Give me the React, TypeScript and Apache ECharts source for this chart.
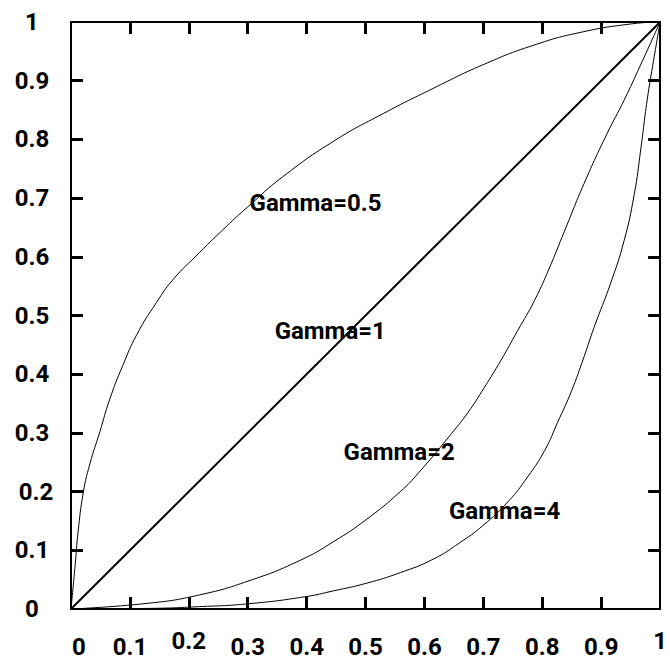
import React, { useEffect, useRef } from "react";
import * as echarts from "echarts";

const tickValues = [0.1, 0.2, 0.3, 0.4, 0.5, 0.6, 0.7, 0.8, 0.9];

const gamma05: number[][] = [
  [0, 0], [0.007, 0.074], [0.012, 0.131], [0.021, 0.199], [0.032, 0.247],
  [0.049, 0.302], [0.066, 0.358], [0.088, 0.415], [0.112, 0.468], [0.145, 0.522],
  [0.173, 0.561], [0.218, 0.607], [0.263, 0.651], [0.3, 0.685], [0.359, 0.736],
  [0.446, 0.797], [0.53, 0.844], [0.615, 0.887], [0.699, 0.927], [0.784, 0.96],
  [0.868, 0.983], [0.953, 0.997], [1, 1],
];
const gamma1: number[][] = [[0, 0], [1, 1]];
const gamma2: number[][] = [
  [0, 0], [0.133, 0.01], [0.218, 0.024], [0.302, 0.048], [0.387, 0.082],
  [0.446, 0.115], [0.502, 0.153], [0.559, 0.2], [0.59, 0.232], [0.646, 0.299],
  [0.674, 0.335], [0.702, 0.378], [0.73, 0.424], [0.758, 0.474], [0.787, 0.526],
  [0.815, 0.588], [0.837, 0.642], [0.871, 0.725], [0.91, 0.81], [0.939, 0.867],
  [0.966, 0.925], [1, 1],
];
const gamma4: number[][] = [
  [0, 0], [0.133, 0.001], [0.218, 0.004], [0.302, 0.009], [0.398, 0.021],
  [0.446, 0.031], [0.502, 0.044], [0.559, 0.062], [0.615, 0.085], [0.66, 0.113],
  [0.699, 0.142], [0.742, 0.183], [0.775, 0.225], [0.804, 0.27], [0.826, 0.318],
  [0.849, 0.37], [0.871, 0.43], [0.888, 0.48], [0.916, 0.555], [0.939, 0.628],
  [0.956, 0.706], [0.967, 0.782], [0.978, 0.867], [0.989, 0.935], [1, 1],
];

const labelNames = ["Gamma=0.5", "Gamma=1", "Gamma=2", "Gamma=4"];
const labelX = [0.415, 0.44, 0.557, 0.736];
const labelY = [0.691, 0.473, 0.267, 0.167];

const FONT = "Roboto";

function fmt(v: number) {
  return String(Number(v.toFixed(1)));
}

export default function App() {
  const ref = useRef<HTMLDivElement>(null);
  useEffect(() => {
    if (!ref.current) return;
    const chart = echarts.init(ref.current, null, { renderer: "svg" });
    const lineAxis = { show: true, onZero: false, lineStyle: { color: "#000", width: 2 } };
    const tick = {
      show: true,
      inside: true,
      length: 12,
      customValues: tickValues,
      lineStyle: { color: "#000", width: 3 },
    };
    const labelBase = {
      fontFamily: FONT,
      fontWeight: "bold" as const,
      fontSize: 24,
      color: "#000",
    };
    const curve = (name: string, data: number[][], width: number) => ({
      type: "line",
      name,
      data,
      showSymbol: false,
      symbol: "none",
      smooth: width > 1 ? false : 0.5,
      lineStyle: { color: "#000", width },
      z: 2,
    });
    chart.setOption({
      animation: false,
      backgroundColor: "#fff",
      grid: { left: 71, right: 7, top: 22, bottom: 55, containLabel: false },
      xAxis: [
        {
          type: "value",
          position: "bottom",
          min: 0,
          max: 1,
          interval: 0.1,
          axisLine: lineAxis,
          axisTick: tick,
          splitLine: { show: false },
          axisLabel: {
            margin: 38,
            verticalAlign: "middle",
            align: "center",
            formatter: (v: number) => {
              const s = fmt(v);
              if (s === "0") return "{z|0}";
              if (s === "0.2") return "{u|0.2}";
              if (s === "1") return "{u|1}";
              return "{n|" + s + "}";
            },
            rich: {
              n: { ...labelBase },
              z: { ...labelBase, padding: [0, 0, 0, 16] },
              u: { ...labelBase, padding: [0, 0, 12, 0] },
            },
          },
        },
        {
          type: "value",
          position: "top",
          min: 0,
          max: 1,
          interval: 0.1,
          axisLine: lineAxis,
          axisTick: tick,
          splitLine: { show: false },
          axisLabel: { show: false },
        },
      ],
      yAxis: [
        {
          type: "value",
          position: "left",
          min: 0,
          max: 1,
          interval: 0.1,
          axisLine: lineAxis,
          axisTick: tick,
          splitLine: { show: false },
          axisLabel: {
            margin: 39,
            align: "center",
            verticalAlign: "middle",
            formatter: (v: number) => {
              const s = fmt(v);
              if (s === "0.2") return "{r|0.2}";
              return "{n|" + s + "}";
            },
            rich: {
              n: { ...labelBase },
              r: { ...labelBase, padding: [0, 0, 0, 8] },
            },
          },
        },
        {
          type: "value",
          position: "right",
          min: 0,
          max: 1,
          interval: 0.1,
          axisLine: lineAxis,
          axisTick: tick,
          splitLine: { show: false },
          axisLabel: { show: false },
        },
      ],
      series: [
        curve("Gamma=0.5", gamma05, 1),
        curve("Gamma=1", gamma1, 2),
        curve("Gamma=2", gamma2, 1),
        curve("Gamma=4", gamma4, 1),
        {
          type: "scatter",
          name: "labels",
          symbolSize: 0,
          itemStyle: { color: "#000", opacity: 1 },
          z: 5,
          data: labelNames.map((n, i) => ({ name: n, value: [labelX[i], labelY[i]] })),
          label: {
            show: true,
            position: [0, 0],
            align: "center",
            verticalAlign: "middle",
            formatter: "{b}",
            fontFamily: FONT,
            fontWeight: "bold",
            fontSize: 24,
            color: "#000",
            opacity: 1,
            textBorderWidth: 0,
          },
        },
      ],
    });
    return () => chart.dispose();
  }, []);
  return (
    <div
      ref={ref}
      style={{ position: "fixed", left: 0, top: 0, width: 670, height: 664, background: "#fff" }}
    />
  );
}
